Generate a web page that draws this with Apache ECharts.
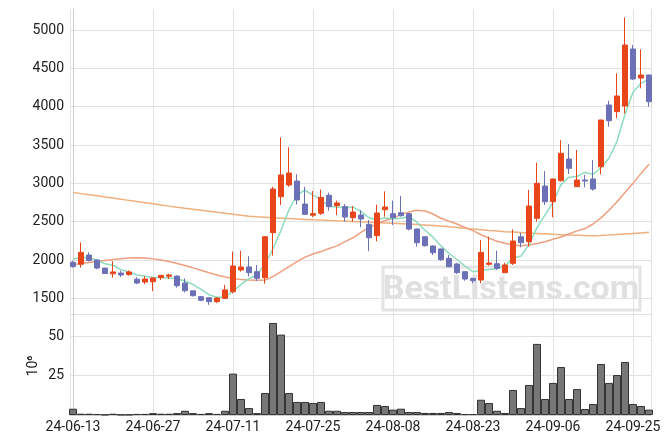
<!DOCTYPE html>
<html><head><meta charset="utf-8">
<script src="https://cdn.jsdelivr.net/npm/echarts@6/dist/echarts.min.js"></script>
<style>html,body{margin:0;padding:0;background:#fff}#c{width:671px;height:444px}</style>
</head><body><div id="c"></div>
<script>
const dates = ['24-06-13','24-06-14','24-06-17','24-06-18','24-06-19','24-06-20','24-06-21','24-06-24','24-06-25','24-06-26','24-06-27','24-06-28',
'24-07-01','24-07-02','24-07-03','24-07-04','24-07-05','24-07-08','24-07-09','24-07-10','24-07-11','24-07-12','24-07-15','24-07-16','24-07-17','24-07-18','24-07-19','24-07-22','24-07-23','24-07-24','24-07-25','24-07-26','24-07-29','24-07-30','24-07-31',
'24-08-01','24-08-02','24-08-05','24-08-06','24-08-07','24-08-08','24-08-09','24-08-12','24-08-13','24-08-14','24-08-16','24-08-19','24-08-20','24-08-21','24-08-22','24-08-23','24-08-26','24-08-27','24-08-28','24-08-29','24-08-30',
'24-09-02','24-09-03','24-09-04','24-09-05','24-09-06','24-09-09','24-09-10','24-09-11','24-09-12','24-09-13','24-09-19','24-09-20','24-09-23','24-09-24','24-09-25','24-09-26','24-09-27'];
const opens = [1970,1945,2065,2000,1895,1820,1830,1810,1750,1713,1717,1770,1788,1790,1700,1598,1522,1508,1457,1500,1587,1870,1910,1848,1770,2357,2826,2978,3030,2730,2585,2610,2845,2709,2696,2552,2587,2465,2317,2656,2604,2617,2604,2404,2304,2183,2144,2022,1948,1848,1761,1739,1944,1952,1835,1957,2304,2239,2544,2965,2761,3035,3317,2957,3043,3057,3217,4022,3935,4009,4752,4374,4413];
const closes = [1915,2100,1995,1895,1825,1845,1805,1845,1700,1752,1765,1800,1805,1665,1600,1535,1475,1457,1504,1610,1922,1910,1835,1762,2304,2926,3110,3135,2783,2596,2605,2818,2696,2744,2561,2626,2535,2291,2613,2691,2552,2578,2404,2226,2187,2096,2005,1913,1835,1752,1730,2100,1961,1892,1935,2248,2226,2704,3000,2761,3057,3392,3196,3043,3030,2926,3826,3817,4139,4804,4361,4413,4065];
const highs = [1990,2230,2100,2005,1897,1985,1860,1865,1775,1790,1770,1805,1820,1800,1760,1600,1530,1510,1513,1675,2110,2120,2050,1935,2310,2956,3600,3470,3118,2956,2900,2920,2878,2774,2730,2705,2652,2522,2722,2896,2774,2835,2610,2410,2310,2190,2150,2065,1965,1850,1765,2261,2304,2122,1965,2400,2356,2913,3270,3161,3060,3565,3513,3435,3110,3304,3830,4078,4435,5165,4804,4748,4420];
const lows = [1900,1900,1980,1880,1820,1770,1780,1795,1685,1685,1595,1740,1752,1640,1578,1525,1462,1415,1440,1490,1565,1848,1785,1726,1690,2057,2717,2956,2726,2587,2560,2587,2643,2587,2500,2500,2426,2117,2244,2565,2457,2565,2387,2174,2175,2065,1990,1905,1818,1730,1696,1696,1926,1870,1835,1935,2165,2174,2500,2717,2557,3022,3122,2957,2948,2904,3118,3739,3848,3913,4348,4239,4000];
const volumes = [4.0,0.8,0.8,0.6,0.2,0.8,0.2,0.2,0.7,0.7,1.2,0.8,0.8,1.2,2.7,1.2,0.7,1.2,0.7,2.7,26.3,10.2,4.4,1.2,14.0,58.5,51.1,14.0,8.3,8.3,7.6,8.3,2.7,2.7,1.9,1.9,1.9,1.9,6.4,5.7,3.4,4.0,1.9,1.9,1.3,1.3,1.3,1.9,1.3,0.6,0.6,9.7,7.6,2.7,1.3,15.9,4.4,19.1,45.2,10.2,20.4,30.5,10.2,16.5,3.8,7.0,32.4,20.4,25.4,33.7,7.0,5.7,3.4];
const ma5 = [2010,2035,2030,2000,1950,1932,1873,1843,1804,1789,1773,1772,1764,1757,1727,1681,1616,1548,1514,1516,1594,1681,1756,1808,1947,2147,2387,2655,2852,2910,2846,2787,2700,2692,2685,2689,2632,2551,2525,2551,2536,2545,2568,2490,2389,2298,2184,2085,2007,1920,1847,1866,1876,1887,1924,2027,2052,2201,2423,2588,2750,2983,3081,3090,3144,3117,3204,3328,3548,3902,4189,4307,4356];
const ma20 = [1940,1955,1968,1982,1995,2008,2018,2026,2030,2026,2015,2000,1980,1955,1928,1898,1866,1835,1805,1778,1758,1746,1740,1737,1740,1783,1848,1913,1978,2038,2078,2110,2150,2185,2240,2290,2360,2426,2470,2515,2544,2595,2625,2648,2640,2600,2545,2505,2470,2425,2383,2330,2285,2245,2218,2195,2187,2195,2215,2238,2270,2300,2340,2380,2410,2470,2550,2650,2760,2880,3000,3130,3250];
const ma60 = [2880,2866,2851,2837,2822,2808,2793,2778,2763,2748,2733,2718,2703,2688,2674,2661,2648,2635,2622,2609,2596,2584,2572,2564,2557,2550,2545,2540,2535,2530,2525,2521,2517,2512,2508,2503,2498,2494,2489,2484,2479,2474,2469,2464,2458,2451,2444,2434,2424,2414,2404,2395,2386,2378,2370,2364,2358,2352,2347,2342,2336,2331,2326,2323,2320,2318,2320,2325,2332,2340,2347,2354,2361];
const volumeUnit = '10\u2076';

const candleData = dates.map((d, i) => [i, opens[i], closes[i], lows[i], highs[i]]);
const volData = volumes.map((v, i) => [i, v]);
const lineData = arr => arr.map((v, i) => [i, v]);

const UP = '#e8461a', DOWN = '#6c70b6';
const GRID = '#e2e2e2', AXIS = '#cfcfcf', TXT = '#222';
const xMin = -0.375, xMax = 72.25;
const fs = 14;

const chart = echarts.init(document.getElementById('c'));
chart.setOption({
  animation: false,
  backgroundColor: '#fff',
  textStyle: { fontFamily: 'Roboto' },
  grid: [
    { left: 70, right: 20, top: 9, height: 305 },
    { left: 70, right: 20, top: 314, height: 101 }
  ],
  xAxis: [
    { type: 'value', gridIndex: 0, min: xMin, max: xMax, minInterval: 10, maxInterval: 10,
      axisLine: { show: false }, axisTick: { show: false }, axisLabel: { show: false },
      splitLine: { show: true, lineStyle: { color: GRID, width: 1 } } },
    { type: 'value', gridIndex: 1, min: xMin, max: xMax, minInterval: 10, maxInterval: 10,
      axisLine: { show: true, lineStyle: { color: AXIS } }, axisTick: { show: false },
      axisLabel: { show: true, showMinLabel: false, showMaxLabel: false, color: TXT, fontSize: fs, margin: 5,
        formatter: v => (Number.isInteger(v) && dates[v]) ? dates[v] : '' },
      splitLine: { show: true, lineStyle: { color: GRID, width: 1 } } }
  ],
  yAxis: [
    { type: 'value', gridIndex: 0, min: 1296, max: 5274, minInterval: 500, maxInterval: 500,
      axisLine: { show: true, lineStyle: { color: AXIS } }, axisTick: { show: false },
      axisLabel: { color: TXT, fontSize: fs, margin: 6, showMinLabel: false, showMaxLabel: false,
        formatter: v => (v % 500 === 0) ? String(v) : '' },
      splitLine: { show: true, showMaxLine: false, lineStyle: { color: GRID, width: 1 } } },
    { type: 'value', gridIndex: 1, min: 0, max: 64.2, minInterval: 25, maxInterval: 25,
      axisLine: { show: true, lineStyle: { color: AXIS } }, axisTick: { show: false },
      axisLabel: { color: TXT, fontSize: fs, margin: 6, showMinLabel: false, showMaxLabel: false,
        formatter: v => (v === 25 || v === 50) ? String(v) : '' },
      splitLine: { show: true, lineStyle: { color: GRID, width: 1 } } }
  ],
  graphic: [
    { type: 'rect', x: 383, y: 267, z: -1, shape: { x: 0, y: 0, width: 257, height: 43 },
      style: { fill: 'rgba(0,0,0,0)', stroke: '#e3e3e3', lineWidth: 3 } },
    { type: 'text', x: 511, y: 290, z: -1,
      style: { text: 'BestListens.com', font: 'bold 34px Roboto', fill: '#e0e0e0', align: 'center', verticalAlign: 'middle' } },
    { type: 'text', x: 33, y: 366, rotation: Math.PI / 2,
      style: { text: volumeUnit, font: '14px Roboto', fill: TXT, align: 'center', verticalAlign: 'middle' } }
  ],
  series: [
    { type: 'bar', xAxisIndex: 1, yAxisIndex: 1, data: volData, barWidth: 8,
      itemStyle: { color: '#777777', borderColor: '#333333', borderWidth: 1 } },
    { type: 'line', xAxisIndex: 0, yAxisIndex: 0, data: lineData(ma60), showSymbol: false, symbol: 'none',
      lineStyle: { color: '#f0b07c', width: 1.5 }, z: 3 },
    { type: 'line', xAxisIndex: 0, yAxisIndex: 0, data: lineData(ma20), showSymbol: false, symbol: 'none',
      lineStyle: { color: '#ef9f80', width: 1.5 }, z: 3 },
    { type: 'line', xAxisIndex: 0, yAxisIndex: 0, data: lineData(ma5), showSymbol: false, symbol: 'none',
      lineStyle: { color: '#8ddcbc', width: 1.5 }, z: 3 },
    { type: 'candlestick', xAxisIndex: 0, yAxisIndex: 0, data: candleData,
      encode: { x: 0, y: [1, 2, 3, 4] }, barWidth: 5, z: 4,
      itemStyle: { color: UP, color0: DOWN, borderColor: UP, borderColor0: DOWN, borderWidth: 1 } }
  ]
});
</script></body></html>
